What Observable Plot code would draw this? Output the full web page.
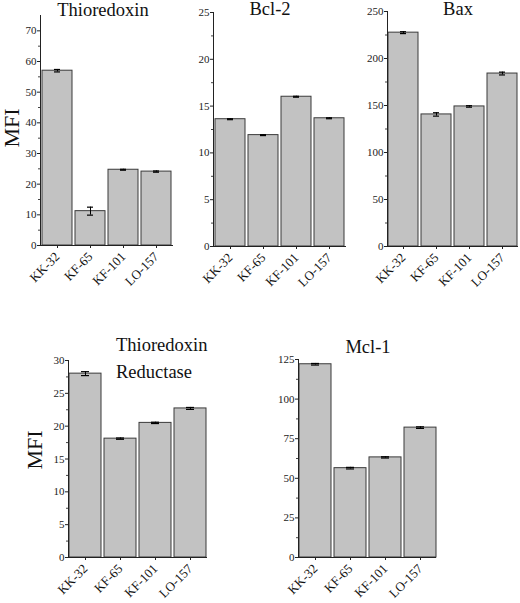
<!DOCTYPE html>
<html>
<head>
<meta charset="utf-8">
<script src="https://cdn.jsdelivr.net/npm/d3@7"></script>
<script src="https://cdn.jsdelivr.net/npm/@observablehq/plot@0.6"></script>
<style>
  html, body { margin: 0; padding: 0; background: #fff; }
  #root { position: relative; width: 520px; height: 603px; overflow: hidden; background: #fff; font-family: "Liberation Serif", serif; }
  #root svg.plot { position: absolute; overflow: visible; }
  #root svg.plot text { font-family: "Liberation Serif", serif; }
  #overlay { position: absolute; left: 0; top: 0; }
  #overlay text { font-family: "Liberation Serif", serif; }
</style>
</head>
<body>
<div id="root"></div>
<script>
// ---- data ----
const cellLines = ["KK-32", "KF-65", "KF-101", "LO-157"];

const thioredoxinValues = [57.0, 11.2, 24.7, 24.1];
const thioredoxinErrors = [0.4, 1.3, 0.15, 0.2];

const bcl2Values = [13.6, 11.9, 16.0, 13.7];
const bcl2Errors = [0.05, 0.05, 0.05, 0.05];

const baxValues = [227.5, 140.5, 149.0, 184.0];
const baxErrors = [1.0, 1.8, 0.8, 1.5];

const trxrValues = [28.0, 18.1, 20.5, 22.7];
const trxrErrors = [0.3, 0.1, 0.1, 0.15];

const mcl1Values = [122.0, 56.4, 63.2, 82.0];
const mcl1Errors = [0.5, 0.5, 0.4, 0.5];

const thioredoxinTicks = [0, 10, 20, 30, 40, 50, 60, 70];
const bcl2Ticks = [0, 5, 10, 15, 20, 25];
const baxTicks = [0, 50, 100, 150, 200, 250];
const trxrTicks = [0, 5, 10, 15, 20, 25, 30];
const mcl1Ticks = [0, 25, 50, 75, 100, 125];

const yLabel = "MFI";

// ---- layout (plot frame positions in the page) ----
const panels = [
  {title: ["Thioredoxin"], values: thioredoxinValues, errors: thioredoxinErrors, ticks: thioredoxinTicks, max: 75,
   x0: 40, x1: 173, yT: 15, yB: 245, titleX: 103, titleY: 16, anchor: "middle", mfi: [12, 128]},
  {title: ["Bcl-2"], values: bcl2Values, errors: bcl2Errors, ticks: bcl2Ticks, max: 25,
   x0: 213, x1: 346, yT: 12, yB: 246, titleX: 270, titleY: 15, anchor: "middle"},
  {title: ["Bax"], values: baxValues, errors: baxErrors, ticks: baxTicks, max: 250,
   x0: 387, x1: 518, yT: 11, yB: 246, titleX: 458, titleY: 15, anchor: "middle"},
  {title: ["Thioredoxin", "Reductase"], values: trxrValues, errors: trxrErrors, ticks: trxrTicks, max: 30,
   x0: 68, x1: 207, yT: 360, yB: 557, titleX: 116, titleY: 351, anchor: "start", lineGap: 27, mfi: [35, 450]},
  {title: ["Mcl-1"], values: mcl1Values, errors: mcl1Errors, ticks: mcl1Ticks, max: 125,
   x0: 298, x1: 436, yT: 359, yB: 557, titleX: 368, titleY: 353, anchor: "middle"}
];

const FONT = "Liberation Serif";
const root = document.getElementById("root");

for (const p of panels) {
  const ml = 32, mr = 4, mt = 8, mb = 60;
  const width = ml + (p.x1 - p.x0) + mr;
  const height = mt + (p.yB - p.yT) + mb;
  const data = cellLines.map((c, i) => ({cell: c, v: p.values[i], e: p.errors[i]}));
  const step = p.ticks[1] - p.ticks[0];
  const minor = d3.range(step / 2, p.max, step).filter(t => !p.ticks.includes(t));

  const chart = Plot.plot({
    width, height,
    marginLeft: ml, marginRight: mr, marginTop: mt, marginBottom: mb,
    style: {fontFamily: FONT, background: "transparent", color: "#111"},
    x: {domain: cellLines, paddingInner: 0.09, paddingOuter: 0.01, label: null},
    y: {domain: [0, p.max], label: null},
    marks: [
      Plot.barY(data, {x: "cell", y: "v", fill: "#c2c2c2", stroke: "#3a3a3a", strokeWidth: 1}),
      Plot.ruleX(data, {x: "cell", y1: d => d.v - d.e, y2: d => d.v + d.e, stroke: "#000", strokeWidth: 1}),
      Plot.tickY(data, {x: "cell", y: d => d.v - d.e, stroke: "#000", strokeWidth: 1.2, insetLeft: 12, insetRight: 12}),
      Plot.tickY(data, {x: "cell", y: d => d.v + d.e, stroke: "#000", strokeWidth: 1.2, insetLeft: 12, insetRight: 12}),
      Plot.ruleY([0], {stroke: "#222", strokeWidth: 1}),
      Plot.frame({anchor: "left", stroke: "#222", strokeWidth: 1}),
      Plot.axisY({ticks: p.ticks, tickSize: 3, tickPadding: 1, fontSize: 11, fill: "#222", stroke: "#222", label: null}),
      Plot.axisY({ticks: minor, tickSize: 2, tickFormat: () => "", stroke: "#444", label: null}),
      Plot.axisX({tickSize: 3, tickPadding: 6, tickRotate: -45, fontSize: 13, fill: "#111", stroke: "#222", label: null})
    ]
  });
  chart.classList.add("plot");
  chart.style.left = (p.x0 - ml) + "px";
  chart.style.top = (p.yT - mt) + "px";
  root.appendChild(chart);
}

// ---- titles and MFI labels ----
const overlay = d3.select(root).append("svg")
  .attr("id", "overlay").attr("width", 520).attr("height", 603);

for (const p of panels) {
  p.title.forEach((line, i) => {
    overlay.append("text")
      .attr("x", p.titleX).attr("y", p.titleY + i * (p.lineGap || 0))
      .attr("text-anchor", p.anchor)
      .attr("font-size", 18.5).attr("fill", "#111")
      .text(line);
  });
  if (p.mfi) {
    overlay.append("text")
      .attr("transform", `translate(${p.mfi[0] + 7},${p.mfi[1]}) rotate(-90)`)
      .attr("text-anchor", "middle")
      .attr("font-size", 22).attr("fill", "#111")
      .text(yLabel);
  }
}
</script>
</body>
</html>
